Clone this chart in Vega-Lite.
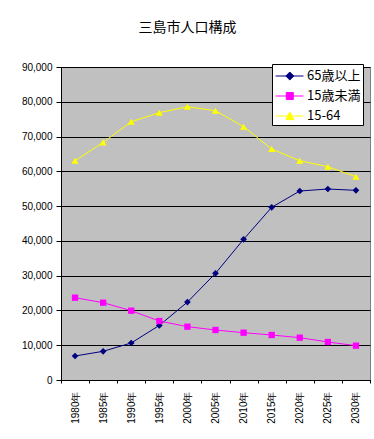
{
  "$schema": "https://vega.github.io/schema/vega-lite/v6.json",
  "width": 309,
  "height": 313,
  "autosize": "none",
  "padding": {"left": 61, "top": 67, "right": 4, "bottom": 59},
  "background": "white",
  "title": {"text": "三島市人口構成", "fontSize": 14, "fontWeight": "normal", "font": "Noto Sans CJK JP", "color": "black", "anchor": "middle", "dx": -28, "offset": 27},
  "config": {
    "view": {"fill": "#C0C0C0", "stroke": "#808080", "strokeWidth": 1},
    "font": "Noto Sans CJK JP"
  },
  "data": {"values": [
    {"year": "1980年", "series": "65歳以上", "value": 6900},
    {"year": "1985年", "series": "65歳以上", "value": 8250},
    {"year": "1990年", "series": "65歳以上", "value": 10640},
    {"year": "1995年", "series": "65歳以上", "value": 15700},
    {"year": "2000年", "series": "65歳以上", "value": 22400},
    {"year": "2005年", "series": "65歳以上", "value": 30670},
    {"year": "2010年", "series": "65歳以上", "value": 40450},
    {"year": "2015年", "series": "65歳以上", "value": 49650},
    {"year": "2020年", "series": "65歳以上", "value": 54340},
    {"year": "2025年", "series": "65歳以上", "value": 54920},
    {"year": "2030年", "series": "65歳以上", "value": 54530},
    {"year": "1980年", "series": "15歳未満", "value": 23670},
    {"year": "1985年", "series": "15歳未満", "value": 22230},
    {"year": "1990年", "series": "15歳未満", "value": 19930},
    {"year": "1995年", "series": "15歳未満", "value": 16960},
    {"year": "2000年", "series": "15歳未満", "value": 15330},
    {"year": "2005年", "series": "15歳未満", "value": 14380},
    {"year": "2010年", "series": "15歳未満", "value": 13600},
    {"year": "2015年", "series": "15歳未満", "value": 12940},
    {"year": "2020年", "series": "15歳未満", "value": 12170},
    {"year": "2025年", "series": "15歳未満", "value": 10930},
    {"year": "2030年", "series": "15歳未満", "value": 9870},
    {"year": "1980年", "series": "15-64", "value": 63050},
    {"year": "1985年", "series": "15-64", "value": 68340},
    {"year": "1990年", "series": "15-64", "value": 74270},
    {"year": "1995年", "series": "15-64", "value": 76860},
    {"year": "2000年", "series": "15-64", "value": 78580},
    {"year": "2005年", "series": "15-64", "value": 77430},
    {"year": "2010年", "series": "15-64", "value": 72830},
    {"year": "2015年", "series": "15-64", "value": 66420},
    {"year": "2020年", "series": "15-64", "value": 63050},
    {"year": "2025年", "series": "15-64", "value": 61330},
    {"year": "2030年", "series": "15-64", "value": 58450}
  ]},
  "encoding": {
    "x": {"field": "year", "type": "ordinal", "sort": null,
      "scale": {"type": "band", "paddingInner": 0, "paddingOuter": 0},
      "axis": {"title": null, "labelAngle": -90, "labelFontSize": 10, "labelColor": "black", "labelPadding": 8, "tickBand": "extent", "tickSize": 3, "tickColor": "black", "domainColor": "black", "grid": false, "labelFont": "Liberation Sans"}},
    "y": {"field": "value", "type": "quantitative",
      "scale": {"domain": [0, 90000], "nice": false},
      "axis": {"title": null, "values": [0, 10000, 20000, 30000, 40000, 50000, 60000, 70000, 80000, 90000], "format": ",d", "labelFontSize": 10, "labelColor": "black", "labelFont": "Liberation Sans", "tickSize": 5, "tickColor": "black", "labelPadding": 4, "domainColor": "black", "grid": true, "gridColor": "black", "gridOpacity": 1, "gridWidth": 1}},
    "color": {"field": "series", "type": "nominal",
      "scale": {"domain": ["65歳以上", "15歳未満", "15-64"], "range": ["#000080", "#FF00FF", "#FFFF00"]},
      "legend": {"title": null, "orient": "none", "legendX": 211, "legendY": -3, "fillColor": "white", "strokeColor": "black", "padding": 2, "rowPadding": 3, "symbolSize": 361, "symbolStrokeWidth": 1, "symbolOpacity": 1, "labelFontSize": 13, "labelColor": "black", "labelOffset": 13, "labelFont": "Noto Sans CJK JP",
        "encode": {"symbols": {"update": {
          "shape": {"signal": "datum.value === '65歳以上' ? 'M-0.89,0H2.05M0.61,-0.42L1.03,0L0.61,0.42L0.19,0Z' : datum.value === '15歳未満' ? 'M-0.89,0H2.05M0.24,-0.37H0.98V0.37H0.24Z' : 'M-0.89,0H2.05M0.61,-0.42L1.03,0.38L0.19,0.38Z'"},
          "fill": {"signal": "datum.value === '65歳以上' ? '#000080' : datum.value === '15歳未満' ? '#FF00FF' : '#FFFF00'"},
          "stroke": {"signal": "datum.value === '65歳以上' ? '#000080' : datum.value === '15歳未満' ? '#FF00FF' : '#FFFF00'"},
          "strokeWidth": {"value": 1},
          "fillOpacity": {"value": 1},
          "strokeOpacity": {"value": 1}
        }}}}
    }
  },
  "layer": [
    {"mark": {"type": "line", "strokeWidth": 1}},
    {"transform": [{"filter": "datum.series === '65歳以上'"}],
      "mark": {"type": "point", "filled": true, "size": 45, "opacity": 1, "shape": "diamond"}},
    {"transform": [{"filter": "datum.series === '15歳未満'"}],
      "mark": {"type": "point", "filled": true, "size": 40, "opacity": 1, "shape": "square"}},
    {"transform": [{"filter": "datum.series === '15-64'"}],
      "mark": {"type": "point", "filled": true, "size": 50, "opacity": 1, "shape": "triangle-up"}}
  ]
}
